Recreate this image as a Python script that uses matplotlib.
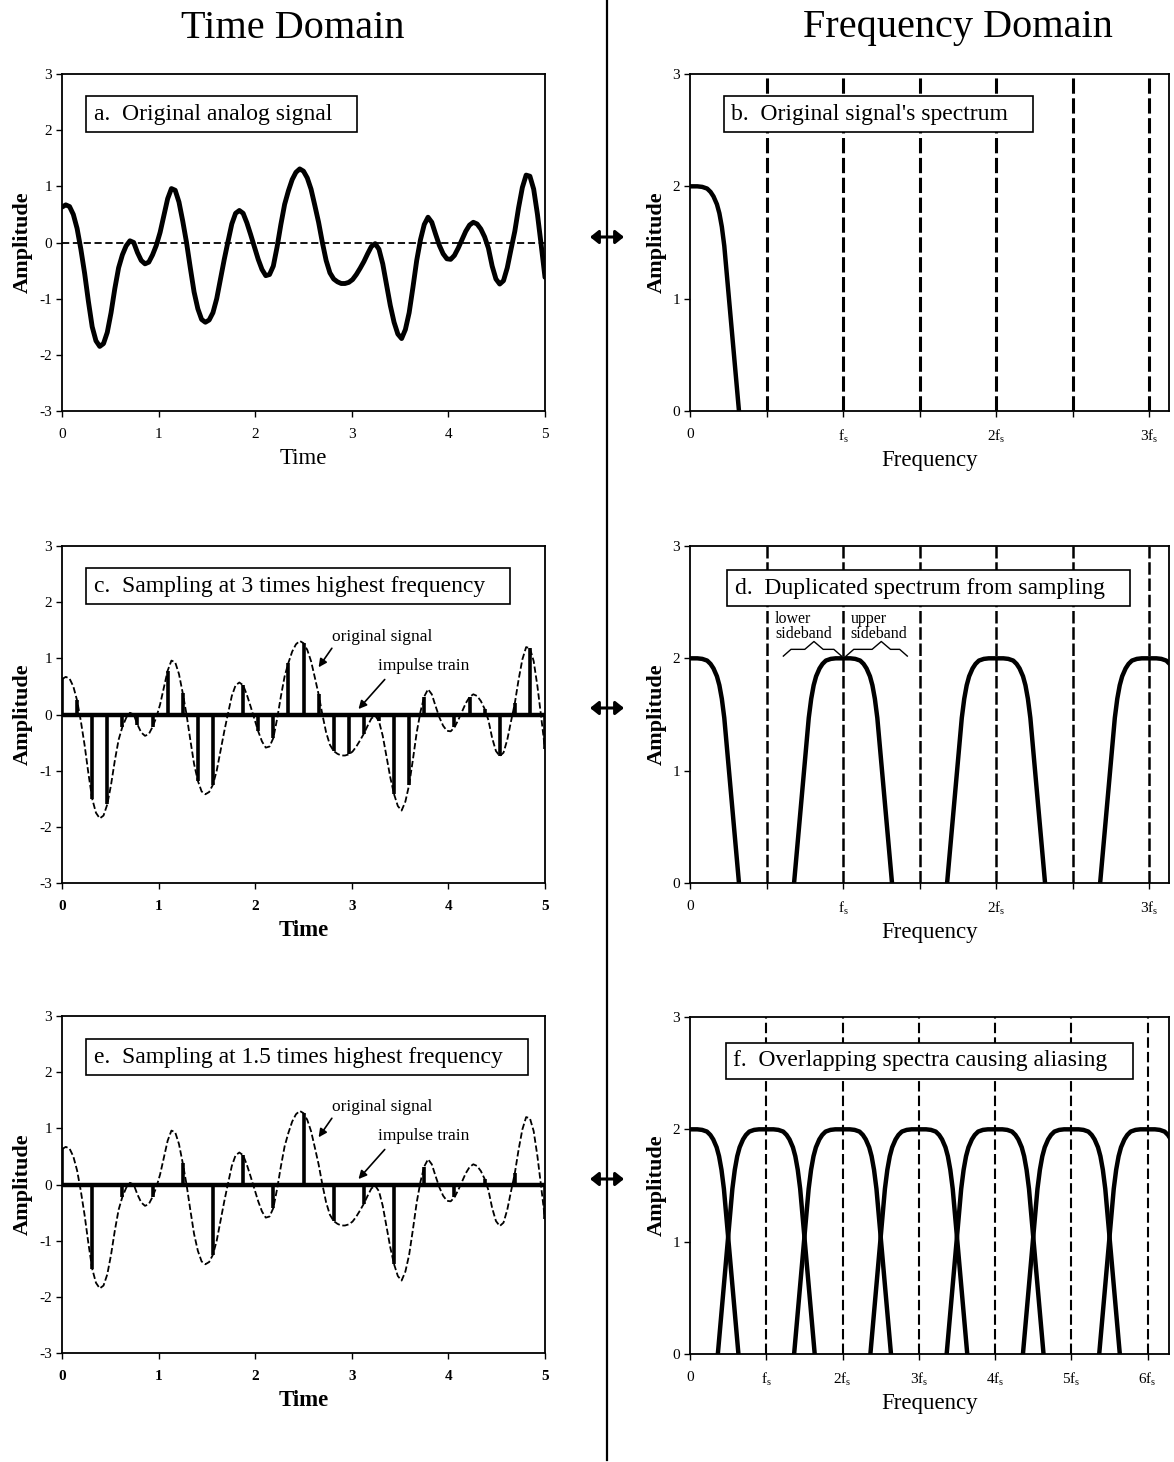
import numpy as np
import matplotlib.pyplot as plt
from matplotlib.patches import FancyArrowPatch
from matplotlib.lines import Line2D

plt.rcParams['font.family'] = ['Liberation Serif', 'DejaVu Serif']
plt.rcParams['mathtext.fontset'] = 'custom'
plt.rcParams['mathtext.rm'] = 'Liberation Serif'
plt.rcParams['mathtext.it'] = 'Liberation Serif:italic'
plt.rcParams['axes.unicode_minus'] = False

# analog signal, every 5/128 time units (0 .. 5)
signal = [
    0.63, 0.67, 0.64, 0.50, 0.25, -0.12, -0.55, -1.05, -1.50, -1.75,
    -1.85, -1.80, -1.60, -1.25, -0.82, -0.45, -0.22, -0.06, 0.03, 0.00,
    -0.18, -0.32, -0.38, -0.35, -0.22, -0.05, 0.18, 0.48, 0.78, 0.96,
    0.93, 0.72, 0.38, 0.00, -0.45, -0.88, -1.18, -1.37, -1.42, -1.38,
    -1.25, -1.00, -0.65, -0.30, 0.02, 0.33, 0.52, 0.57, 0.52, 0.35,
    0.14, -0.08, -0.30, -0.48, -0.59, -0.57, -0.42, -0.08, 0.32, 0.68,
    0.92, 1.12, 1.25, 1.31, 1.27, 1.15, 0.95, 0.66, 0.36, 0.00,
    -0.32, -0.54, -0.65, -0.70, -0.73, -0.73, -0.71, -0.66, -0.57, -0.46,
    -0.34, -0.20, -0.07, -0.02, -0.12, -0.38, -0.75, -1.12, -1.42, -1.63,
    -1.71, -1.55, -1.25, -0.80, -0.32, 0.05, 0.32, 0.45, 0.36, 0.15,
    -0.05, -0.20, -0.29, -0.30, -0.23, -0.10, 0.05, 0.20, 0.31, 0.36,
    0.33, 0.24, 0.10, -0.10, -0.42, -0.65, -0.74, -0.68, -0.45, -0.12,
    0.20, 0.62, 0.98, 1.20, 1.18, 0.95, 0.50, -0.05, -0.62,
]
time = np.linspace(0, 5, len(signal))
step_fast = 4   # sampling at 3x highest frequency (32 samples)
step_slow = 8   # sampling at 1.5x highest frequency (16 samples)

# one-sided spectrum shape: fraction of highest frequency vs amplitude
shape_r = [0.0, 0.15, 0.25, 0.35, 0.42, 0.48, 0.55, 0.6, 0.65, 0.7, 0.8, 0.9, 1.0]
shape_amp = [2.0, 2.0, 1.995, 1.98, 1.95, 1.91, 1.84, 1.76, 1.64, 1.47, 0.98, 0.49, 0.0]

fmax_fast = 0.32   # highest frequency as a fraction of fs (panel d)
fmax_slow = 0.635  # panel f
centers_d = [0, 1, 2, 3]
centers_f = [0, 1, 2, 3, 4, 5, 6, 7]
dash_b = [0.5, 1.0, 1.5, 2.0, 2.5, 3.0]
dash_f = [1, 2, 3, 4, 5, 6]
fs_labels = ['0', 'f$_\\mathrm{s}$', '2f$_\\mathrm{s}$', '3f$_\\mathrm{s}$',
             '4f$_\\mathrm{s}$', '5f$_\\mathrm{s}$', '6f$_\\mathrm{s}$']

W, H = 1174, 1462
fig = plt.figure(figsize=(W / 100, H / 100), dpi=100)


def box(x0, x1, ytop, ybot):
    return [x0 / W, 1 - ybot / H, (x1 - x0) / W, (ybot - ytop) / H]


def style(ax):
    for s in ax.spines.values():
        s.set_linewidth(1.3)
    ax.tick_params(direction='out', length=4, width=1, labelsize=11, pad=3)
    ax.tick_params(axis='x', pad=8)


def lobe(center, fmax):
    r = np.array(shape_r)
    a = np.array(shape_amp)
    x = center + np.concatenate([-r[::-1], r[1:]]) * fmax
    y = np.concatenate([a[::-1], a[1:]])
    return x, y


def label_box(ax, x, y, txt):
    ax.text(x, y, txt + '   ', transform=ax.transAxes, fontsize=17, va='center', ha='left',
            bbox=dict(boxstyle='square,pad=0.32', fc='white', ec='black', lw=1.2), zorder=5)


def time_axes(rect, bold=False):
    ax = fig.add_axes(rect)
    style(ax)
    ax.set_xlim(0, 5)
    ax.set_ylim(-3, 3)
    ax.set_xticks([0, 1, 2, 3, 4, 5])
    ax.set_yticks([-3, -2, -1, 0, 1, 2, 3])
    w = 'bold' if bold else 'normal'
    for lab in ax.get_xticklabels():
        lab.set_fontweight(w)
    ax.set_xlabel('Time', fontsize=16.5, fontweight=w, labelpad=5)
    ax.set_ylabel('Amplitude', fontsize=16, fontweight='bold', labelpad=5)
    return ax


def freq_axes(rect, xmax, ticks):
    ax = fig.add_axes(rect)
    style(ax)
    ax.set_xlim(0, xmax)
    ax.set_ylim(0, 3)
    ax.set_xticks(ticks)
    ax.set_xticklabels(fs_labels[:len(ticks)])
    ax.set_yticks([0, 1, 2, 3])
    ax.set_xlabel('Frequency', fontsize=16.5, labelpad=4)
    ax.set_ylabel('Amplitude', fontsize=16, fontweight='bold', labelpad=4)
    return ax


# ---- a. original analog signal
ax = time_axes(box(62, 545, 74, 411))
ax.axhline(0, color='black', lw=1.3, dashes=(4, 2))
ax.plot(time, signal, color='black', lw=3.5, solid_capstyle='round')
label_box(ax, 0.066, 0.881, 'a.  Original analog signal')


def sampled(rect, step):
    ax = time_axes(rect, bold=True)
    ax.plot(time, signal, color='black', lw=1.3, dashes=(3.5, 1.5))
    ts = time[::step]
    vs = np.array(signal)[::step]
    ax.vlines(ts, 0, vs, color='black', lw=2.6)
    ax.axhline(0, color='black', lw=3.2)
    ax.text(2.79, 1.38, 'original signal', fontsize=12.5, va='center')
    ax.annotate('', xy=(2.64, 0.8), xytext=(2.81, 1.22),
                arrowprops=dict(arrowstyle='-|>', color='black', lw=1.2, mutation_scale=12))
    ax.text(3.27, 0.87, 'impulse train', fontsize=12.5, va='center')
    ax.annotate('', xy=(3.05, 0.06), xytext=(3.36, 0.66),
                arrowprops=dict(arrowstyle='-|>', color='black', lw=1.2, mutation_scale=12))
    return ax


ax = sampled(box(62, 545, 546, 883), step_fast)
label_box(ax, 0.066, 0.88, 'c.  Sampling at 3 times highest frequency')
ax = sampled(box(62, 545, 1016, 1353), step_slow)
label_box(ax, 0.066, 0.878, 'e.  Sampling at 1.5 times highest frequency')

# ---- b. original spectrum
ax = freq_axes(box(690, 1169, 74, 411), 3.13, [0, 1, 2, 3])
ax.set_xticks(dash_b[::2], minor=True)
ax.tick_params(which='minor', direction='out', length=4, width=1)
for x in dash_b:
    ax.axvline(x, color='black', lw=2.2, dashes=(5, 1.5))
x, y = lobe(centers_d[0], fmax_fast)
ax.plot(x, y, color='black', lw=3.2)
label_box(ax, 0.086, 0.881, "b.  Original signal's spectrum")

# ---- d. duplicated spectrum
ax = freq_axes(box(690, 1169, 546, 883), 3.13, [0, 1, 2, 3])
ax.set_xticks(dash_b[::2], minor=True)
ax.tick_params(which='minor', direction='out', length=4, width=1)
for x in dash_b:
    ax.axvline(x, color='black', lw=1.8, dashes=(5, 1.5))
for c in centers_d:
    x, y = lobe(c, fmax_fast)
    ax.plot(x, y, color='black', lw=3.2)
label_box(ax, 0.094, 0.875, 'd.  Duplicated spectrum from sampling')
ax.text(0.555, 2.28, 'lower\nsideband', fontsize=11.5, va='center', linespacing=0.9)
ax.text(1.05, 2.28, 'upper\nsideband', fontsize=11.5, va='center', linespacing=0.9)


def brace(ax, x0, x1, xm, y):
    ax.plot([x0, x0 + 0.05, xm - 0.06, xm, xm + 0.06, x1 - 0.05, x1],
            [y - 0.02, y + 0.04, y + 0.04, y + 0.11, y + 0.04, y + 0.04, y - 0.02],
            color='black', lw=1.0)


brace(ax, 0.61, 0.99, 0.81, 2.04)
brace(ax, 1.02, 1.42, 1.25, 2.04)

# ---- f. overlapping spectra
ax = freq_axes(box(690, 1169, 1017, 1354), 6.28, [0, 1, 2, 3, 4, 5, 6])
for x in dash_f:
    ax.axvline(x, color='black', lw=1.5, dashes=(5, 2))
for c in centers_f:
    x, y = lobe(c, fmax_slow)
    ax.plot(x, y, color='black', lw=3.2)
label_box(ax, 0.09, 0.87, 'f.  Overlapping spectra causing aliasing')

# ---- headings, divider and double arrows
fig.text(293 / W, 1 - 28 / H, 'Time Domain', fontsize=29, ha='center', va='center')
fig.text(958 / W, 1 - 28 / H, 'Frequency Domain', fontsize=29, ha='center', va='center')
fig.add_artist(Line2D([607 / W, 607 / W], [1 - 1460 / H, 1], color='black', lw=1.6))
for yy in [237, 708, 1179]:
    fig.add_artist(FancyArrowPatch((590 / W, 1 - yy / H), (624 / W, 1 - yy / H),
                                   transform=fig.transFigure,
                                   arrowstyle='<|-|>,head_length=0.5,head_width=0.4',
                                   mutation_scale=10, lw=2.2, color='black',
                                   shrinkA=0, shrinkB=0))

fig.savefig('out.png', dpi=100)
